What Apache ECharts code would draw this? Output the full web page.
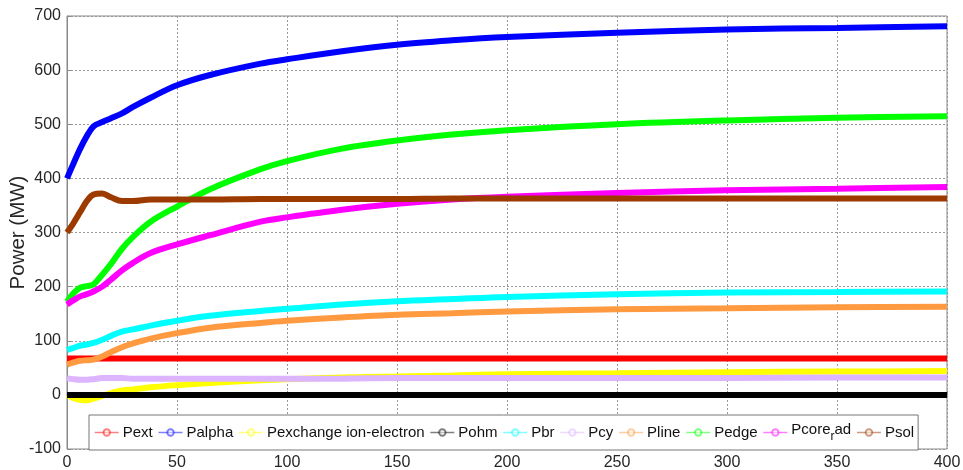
<!DOCTYPE html>
<html><head><meta charset="utf-8">
<script src="https://cdn.jsdelivr.net/npm/echarts@6/dist/echarts.min.js"></script>
<style>html,body{margin:0;padding:0;background:#fff}#c{width:963px;height:470px}</style>
</head><body><div id="c"></div>
<script>
const t        = [0, 3, 6, 9, 12, 16, 20, 25, 30, 38, 50, 65, 88, 100, 125, 150, 175, 200, 250, 300, 350, 400];
const Pext     = [67, 67, 67, 67, 67, 67, 67, 67, 67, 67, 67, 67, 67, 67, 67, 67, 67, 67, 67, 67, 67, 67];
const Palpha   = [400, 428, 455, 478, 496, 504, 511, 520, 532, 549, 572, 591, 612, 620, 635, 647, 655, 661, 669, 675, 678, 681];
const Pexch    = [0, -6, -9, -10, -7, -2, 3, 8, 10, 14, 18, 22, 27, 29, 32, 34, 36, 38, 40, 42, 43, 44];
const Pohm     = [0, 0, 0, 0, 0, 0, 0, 0, 0, 0, 0, 0, 0, 0, 0, 0, 0, 0, 0, 0, 0, 0];
const Pbr      = [83, 87, 91, 93, 96, 102, 109, 117, 121, 128, 137, 146, 155, 159, 167, 173, 177, 181, 186, 189, 190, 191];
const Pcy      = [31, 29, 28, 28, 29, 31, 31, 31, 30, 30, 30, 30, 30, 30, 30, 31, 31, 31, 31, 31, 32, 32];
const Pline    = [56, 60, 63, 64, 65, 71, 79, 88, 95, 104, 114, 124, 133, 137, 143, 148, 151, 154, 158, 160, 162, 163];
const Pedge    = [172, 188, 198, 201, 204, 222, 242, 270, 292, 320, 348, 380, 417, 432, 455, 470, 481, 489, 500, 507, 512, 515];
const Pcorerad = [167, 175, 182, 186, 191, 200, 213, 230, 244, 262, 278, 295, 320, 328, 342, 353, 361, 366, 373, 378, 381, 384];
const Psol     = [300, 318, 338, 358, 370, 372, 365, 358, 358, 361, 361, 361, 362, 362, 362, 362, 363, 363, 363, 363, 363, 363];

const names  = ['Pext', 'Palpha', 'Pexchange ion-electron', 'Pohm', 'Pbr', 'Pcy', 'Pline', 'Pedge', 'Pcore_rad', 'Psol'];
const values = [Pext, Palpha, Pexch, Pohm, Pbr, Pcy, Pline, Pedge, Pcorerad, Psol];
const colors = ['#ff0000', '#0000ff', '#ffff00', '#000000', '#00ffff', '#dcb4ff', '#ff9a40', '#00ff00', '#ff00ff', '#9c3a00'];

const series = names.map((n, i) => ({
  name: n, type: 'line', smooth: 0.35, symbol: 'emptyCircle', symbolSize: 4, showSymbol: false,
  data: t.map((x, j) => [x, values[i][j]]),
  lineStyle: { width: 6, color: colors[i] }, itemStyle: { color: colors[i] },
  emphasis: { disabled: true }, z: 2 + i
}));

const chart = echarts.init(document.getElementById('c'), null, { renderer: 'canvas' });
const ff = 'Liberation Sans, Arial, sans-serif';
const axisTxt = { color: '#262626', fontSize: 16, fontFamily: ff };
chart.setOption({
  animation: false,
  grid: { left: 67, right: 16, top: 16, bottom: 21, show: true, borderColor: '#8a8a8a', borderWidth: 1,
          containLabel: false, outerBoundsMode: 'none' },
  xAxis: {
    type: 'value', min: 0, max: 400, interval: 50,
    axisLine: { show: true, lineStyle: { color: '#8a8a8a' } },
    axisTick: { inside: true, length: 4, lineStyle: { color: '#8a8a8a' } },
    axisLabel: Object.assign({ margin: 6 }, axisTxt),
    splitLine: { show: true, lineStyle: { color: '#999', type: [2, 2], width: 1 } }
  },
  yAxis: {
    type: 'value', min: -100, max: 700, interval: 100,
    name: 'Power (MW)', nameLocation: 'middle', nameGap: 38, nameMoveOverlap: false,
    nameTextStyle: { color: '#262626', fontSize: 20.5, fontFamily: ff },
    axisLine: { show: true, lineStyle: { color: '#8a8a8a' } },
    axisTick: { inside: true, length: 4, lineStyle: { color: '#8a8a8a' } },
    axisLabel: Object.assign({ margin: 6 }, axisTxt),
    splitLine: { show: true, lineStyle: { color: '#999', type: [2, 2], width: 1 } }
  },
  legend: {
    data: names, left: 89, top: 415, orient: 'horizontal',
    padding: [7, 4, 7, 5], itemGap: 5, itemWidth: 24, itemHeight: 8,
    borderColor: '#777', borderWidth: 1, backgroundColor: '#fff',
    lineStyle: { width: 1.5, opacity: 0.5 }, itemStyle: { opacity: 0.5 },
    textStyle: {
      color: '#111', fontSize: 15, fontFamily: ff, padding: [0, 0, 0, -1],
      rich: {
        a: { fontSize: 15, color: '#111', fontFamily: ff, padding: [0, 0, 6, 0] },
        s: { fontSize: 12, color: '#111', fontFamily: ff, padding: [9, 0, 0, 0] }
      }
    },
    formatter: n => n === 'Pcore_rad' ? '{a|Pcore}{s|r}{a|ad}' : n
  },
  series: series
});
</script></body></html>
